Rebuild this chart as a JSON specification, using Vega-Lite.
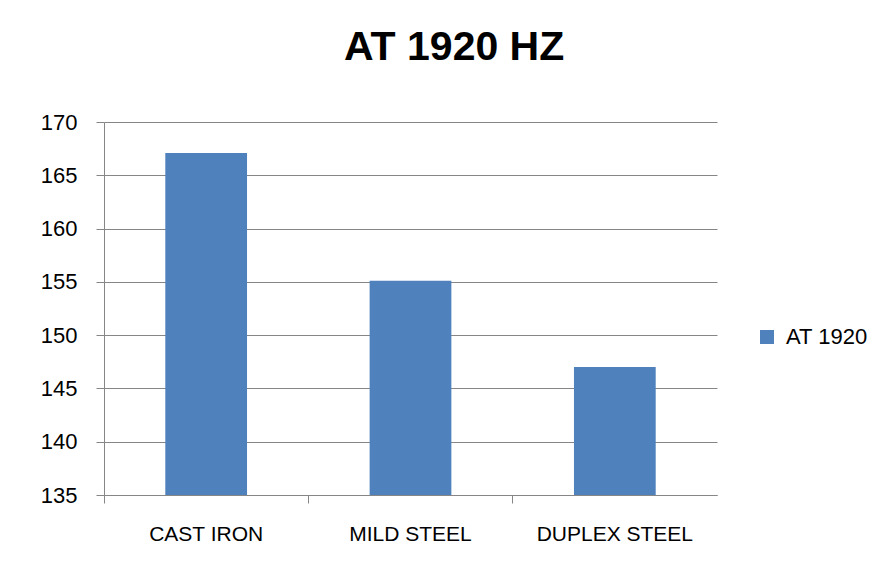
{
  "$schema": "https://vega.github.io/schema/vega-lite/v6.json",
  "width": 613,
  "height": 373,
  "padding": {"left": 40, "top": 27, "right": 10, "bottom": 10},
  "background": "white",
  "title": {
    "text": "AT 1920 HZ",
    "font": "Liberation Sans",
    "fontSize": 41,
    "fontWeight": "bold",
    "color": "#000000",
    "anchor": "middle",
    "frame": "bounds",
    "offset": 42
  },
  "data": {
    "values": [
      {"material": "CAST IRON", "series": "AT 1920", "value": 167.1},
      {"material": "MILD STEEL", "series": "AT 1920", "value": 155.1},
      {"material": "DUPLEX STEEL", "series": "AT 1920", "value": 147.0}
    ]
  },
  "mark": {"type": "bar", "width": {"band": 0.4}, "color": "#4F81BD", "clip": true},
  "encoding": {
    "x": {
      "field": "material",
      "type": "nominal",
      "sort": null,
      "scale": {"paddingInner": 0, "paddingOuter": 0},
      "axis": {
        "title": null,
        "labelAngle": 0,
        "labelFont": "Liberation Sans",
        "labelFontSize": 21,
        "labelColor": "#000000",
        "labelPadding": 20,
        "tickSize": 8,
        "tickColor": "#868686",
        "domainColor": "#868686",
        "bandPosition": 0,
        "grid": false
      }
    },
    "y": {
      "field": "value",
      "type": "quantitative",
      "scale": {"domain": [135, 170], "nice": false, "zero": false},
      "axis": {
        "title": null,
        "values": [135, 140, 145, 150, 155, 160, 165, 170],
        "labelFont": "Liberation Sans",
        "labelFontSize": 22,
        "labelColor": "#000000",
        "labelPadding": 19,
        "tickSize": 8,
        "tickColor": "#868686",
        "domainColor": "#868686",
        "gridColor": "#868686",
        "gridOpacity": 1
      }
    },
    "y2": {"datum": 135},
    "color": {
      "field": "series",
      "type": "nominal",
      "scale": {"range": ["#4F81BD"]},
      "legend": {
        "title": null,
        "orient": "none",
        "legendX": 652,
        "legendY": 204,
        "symbolType": "square",
        "symbolSize": 196,
        "symbolStrokeWidth": 0,
        "labelFont": "Liberation Sans",
        "labelFontSize": 22,
        "labelColor": "#000000",
        "labelOffset": 8
      }
    }
  },
  "config": {
    "view": {"stroke": null}
  }
}
